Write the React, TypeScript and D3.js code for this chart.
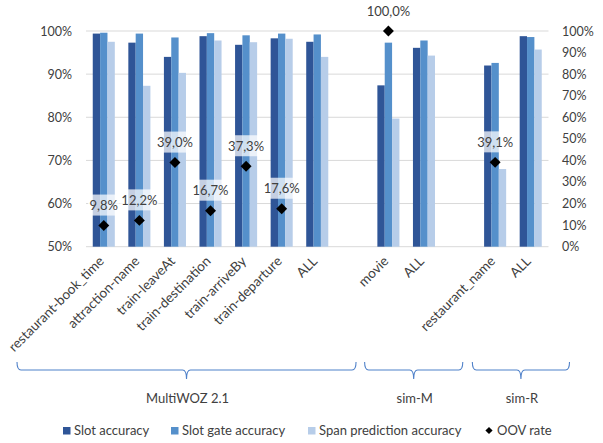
import React from "react";
import * as d3 from "d3";

const categories = [
  "restaurant-book_time",
  "attraction-name",
  "train-leaveAt",
  "train-destination",
  "train-arriveBy",
  "train-departure",
  "ALL",
  "",
  "movie",
  "ALL",
  "",
  "restaurant_name",
  "ALL",
];
const slotAccuracy = [99.4, 97.3, 94.0, 98.8, 96.8, 98.3, 97.5, null, 87.4, 96.1, null, 92.0, 98.8];
const slotGateAccuracy = [99.6, 99.4, 98.5, 99.5, 99.0, 99.4, 99.2, null, 97.3, 97.8, null, 92.6, 98.6];
const spanAccuracy = [97.5, 87.3, 90.3, 97.8, 97.4, 98.2, 94.0, null, 79.7, 94.3, null, 68.0, 95.7];
const oovRate = [9.8, 12.2, 39.0, 16.7, 37.3, 17.6, null, null, 100.0, null, null, 39.1, null];

const leftTicks = [50, 60, 70, 80, 90, 100];
const rightTicks = [0, 10, 20, 30, 40, 50, 60, 70, 80, 90, 100];

const groupNames = ["MultiWOZ 2.1", "sim-M", "sim-R"];
const groupFirst = [0, 8, 11];
const groupLast = [6, 9, 12];

const seriesNames = ["Slot accuracy", "Slot gate accuracy", "Span prediction accuracy"];
const seriesColors = ["#2F5597", "#5590CB", "#B7CDE9"];

const W = 603;
const H = 443;
const FONT = "Lato, 'Open Sans', sans-serif";
const TXT = "#404040";
const braceLeftPad = [69, 6, 5];

export default function App() {
  const plotL = 86;
  const plotR = 548.5;
  const yTop = 31;
  const yBot = 246.7;

  const x = d3.scaleBand<number>().domain(categories.map((_, i) => i)).range([plotL, plotR]).padding(0);
  const bw = x.bandwidth();
  const clusterW = bw * 0.62;
  const xs = d3.scaleBand<number>().domain([0, 1, 2]).range([0, clusterW]).padding(0);
  const yL = d3.scaleLinear().domain([50, 100]).range([yBot, yTop]);
  const yR = d3.scaleLinear().domain([0, 100]).range([yBot, yTop]);
  const series = [slotAccuracy, slotGateAccuracy, spanAccuracy];
  const fmtLabel = (v: number) => d3.format(".1f")(v).replace(".", ",") + "%";
  const diamond = d3.symbol().type(d3.symbolSquare).size(60)();
  const diamondSmall = d3.symbol().type(d3.symbolSquare).size(26)();

  const cx = (i: number) => (x(i) as number) + bw / 2;

  const legendX = [63, 171, 308, 489];

  return (
    <svg width={W} height={H} style={{ position: "absolute", left: 0, top: 0 }} fontFamily={FONT}>
      <rect width={W} height={H} fill="#fff" />
      {/* gridlines */}
      {leftTicks.map((t) => (
        <line key={t} x1={plotL} x2={plotR} y1={yL(t)} y2={yL(t)} stroke="#D9D9D9" strokeWidth={1} />
      ))}
      {/* left axis labels */}
      {leftTicks.map((t) => (
        <text key={t} x={72} y={yL(t)} dy="0.36em" textAnchor="end" fontSize={12.5} fill={TXT}>
          {t}%
        </text>
      ))}
      {/* right axis labels */}
      {rightTicks.map((t) => (
        <text key={t} x={562} y={yR(t)} dy="0.36em" textAnchor="start" fontSize={12.5} fill={TXT}>
          {t}%
        </text>
      ))}
      {/* bars */}
      {series.map((s, si) =>
        s.map((v, i) =>
          v == null ? null : (
            <rect
              key={si + "-" + i}
              x={cx(i) - clusterW / 2 + (xs(si) as number)}
              y={yL(v)}
              width={xs.bandwidth()}
              height={yBot - yL(v)}
              fill={seriesColors[si]}
            />
          )
        )
      )}
      {/* OOV labels and markers */}
      {oovRate.map((v, i) => {
        if (v == null) return null;
        const label = fmtLabel(v);
        const tw = label.length * 6.9;
        const py = yR(v);
        return (
          <g key={"oov" + i}>
            <rect x={cx(i) - tw / 2 - 2} y={py - 31} width={tw + 4} height={21} fill="#fff" fillOpacity={0.72} />
            <text x={cx(i)} y={py - 20} dy="0.36em" textAnchor="middle" fontSize={13} fill={TXT}>
              {label}
            </text>
            <path d={diamond} transform={`translate(${cx(i)},${py}) rotate(45)`} fill="#000" />
          </g>
        );
      })}
      {/* x labels */}
      {categories.map((c, i) =>
        c ? (
          <text
            key={"xl" + i}
            transform={`translate(${cx(i) + 1},${262}) rotate(-45)`}
            textAnchor="end"
            fontSize={13.5}
            fill={TXT}
          >
            {c}
          </text>
        ) : null
      )}
      {/* braces */}
      {groupNames.map((g, gi) => {
        const l = (x(groupFirst[gi]) as number) - braceLeftPad[gi];
        const r = (x(groupLast[gi]) as number) + bw + 21;
        const m = (l + r) / 2;
        const y0 = 362;
        const y1 = 370;
        const y2 = 379;
        const d = `M${l},${y0} Q${l},${y1} ${l + 4},${y1} H${m - 4} Q${m},${y1} ${m},${y2} Q${m},${y1} ${m + 4},${y1} H${r - 4} Q${r},${y1} ${r},${y0}`;
        return (
          <g key={g}>
            <path d={d} fill="none" stroke="#4F81C9" strokeWidth={1.1} />
            <text x={m + 1} y={403} textAnchor="middle" fontSize={13} fill={TXT}>
              {g}
            </text>
          </g>
        );
      })}
      {/* legend */}
      {seriesNames.map((n, i) => (
        <g key={n}>
          <rect x={legendX[i]} y={427} width={7.5} height={7.5} fill={seriesColors[i]} />
          <text x={legendX[i] + 11} y={430.5} dy="0.36em" fontSize={13} fill={TXT}>
            {n}
          </text>
        </g>
      ))}
      <path d={diamondSmall} transform={`translate(${legendX[3]},430.5) rotate(45)`} fill="#000" />
      <text x={legendX[3] + 8} y={430.5} dy="0.36em" fontSize={13} fill={TXT}>
        OOV rate
      </text>
    </svg>
  );
}
